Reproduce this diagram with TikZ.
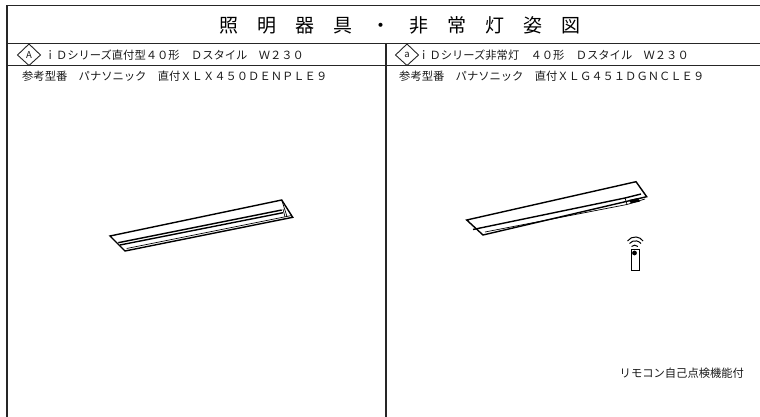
\documentclass[tikz,border=0pt]{standalone}
\usepackage{fontspec}
\setmainfont{Noto Sans CJK JP}
\begin{document}
\begin{tikzpicture}[x=1pt,y=-1pt]
\tikzset{frameline/.style={line width=1.2pt,black!85},
lampline/.style={line width=0.7pt},
lampthick/.style={line width=1.4pt},
markline/.style={line width=0.9pt,black!85},
headtext/.style={anchor=west,inner sep=0pt,font=\fontsize{11.3}{12}\selectfont,black!90},
marktext/.style={inner sep=0pt,font=\fontsize{9.5}{10}\selectfont,black!90}}
\useasboundingbox (0,0) rectangle (760,417);

% This draws the frame.
\draw[frameline] (7,417) -- (7,5.7) -- (760,5.7);
\draw[frameline] (7,43.3) -- (760,43.3);
\draw[frameline] (7,65.8) -- (760,65.8);
\draw[frameline] (386,43.3) -- (386,417);

% This draws the title.
\node[inner sep=0pt,font=\fontsize{19}{21}\selectfont] (title) at (400,25) {照\hspace{19pt}明\hspace{19pt}器\hspace{19pt}具\hspace{19pt}・\hspace{19pt}非\hspace{19pt}常\hspace{19pt}灯\hspace{19pt}姿\hspace{19pt}図};

% This draws the left column header.
\draw[markline] (17.5,55) -- (29,44) -- (40.5,55) -- (29,65.5) -- cycle;
\node[marktext] (markA) at (29,55) {A};
\node[headtext] (headA) at (44.5,55) {ｉＤシリーズ直付型４０形　Ｄスタイル　Ｗ２３０};
\node[headtext] (modelA) at (22,76) {参考型番　パナソニック　直付ＸＬＸ４５０ＤＥＮＰＬＥ９};

% This draws the right column header.
\draw[markline] (395.5,55) -- (407,44) -- (418.5,55) -- (407,65.5) -- cycle;
\node[marktext] (markB) at (407,55) {a};
\node[headtext] (headB) at (418,55) {ｉＤシリーズ非常灯　４０形　Ｄスタイル　Ｗ２３０};
\node[headtext] (modelB) at (399,76) {参考型番　パナソニック　直付ＸＬＧ４５１ＤＧＮＣＬＥ９};

% This draws the left lamp.
\draw[lampthick] (110,236) -- (281.7,200) -- (292.7,217.3) -- (125,251) -- cycle;
\draw[lampthick] (118.3,242.7) -- (281.7,210);
\draw[lampthick] (120,245) -- (283,212.7);
\draw[lampline] (126.7,248.5) -- (291.7,215.5);
\draw[lampline] (281.7,200) -- (287,216.5);
\draw[lampline] (283,209) -- (285,217);

% This draws the right lamp.
\draw[lampthick] (466.7,220) -- (636,181.7) -- (646.7,196.7) -- (483,235) -- cycle;
\draw[lampthick] (473,229.5) -- (625,198) -- (641,194);
\draw[lampline] (485,232) -- (627,204.5);
\draw[lampline] (625,198) -- (627,204.5) -- (645,199);
\fill (629,200) -- (638,198) -- (640,201.5) -- (631,203.5) -- cycle;

% This draws the remote.
\draw[line width=1pt] (631,249) rectangle (639,270);
\fill (634.5,253) circle (2.4pt);
\draw[line width=1pt] (631.5,246.5) arc[start angle=225,end angle=315,radius=4.5];
\draw[line width=1pt] (629.5,243.5) arc[start angle=220,end angle=320,radius=7.5];
\draw[line width=1pt] (627.5,241) arc[start angle=215,end angle=325,radius=9.5];

% This draws the note.
\node[headtext] (note) at (619.5,373) {リモコン自己点検機能付};
\end{tikzpicture}
\end{document}
